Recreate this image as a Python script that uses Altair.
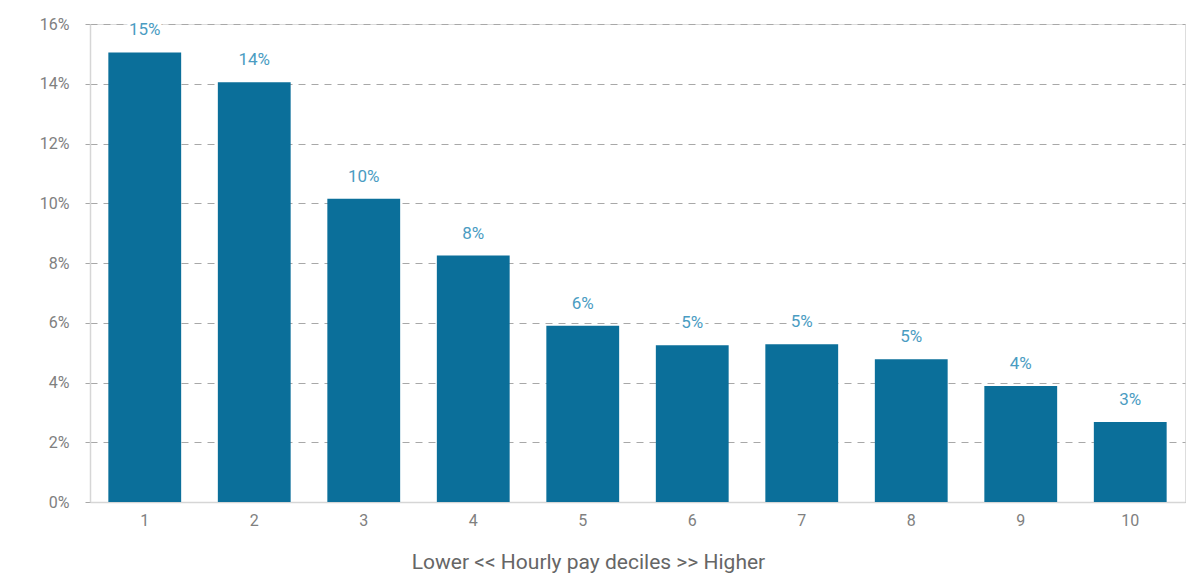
import altair as alt
import pandas as pd

deciles = ["1", "2", "3", "4", "5", "6", "7", "8", "9", "10"]
shares = [15.05, 14.05, 10.15, 8.25, 5.9, 5.25, 5.28, 4.78, 3.88, 2.68]
labels = ["15%", "14%", "10%", "8%", "6%", "5%", "5%", "5%", "4%", "3%"]
y_ticks = [0, 2, 4, 6, 8, 10, 12, 14, 16]

df = pd.DataFrame({"decile": deciles, "share": shares, "label": labels})

FONT = "Roboto"
GREY = "#808080"

x = alt.X(
    "decile:N",
    sort=deciles,
    scale=alt.Scale(paddingInner=0.335, paddingOuter=0.1675),
    axis=alt.Axis(
        title="Lower << Hourly pay deciles >> Higher",
        labelAngle=0,
        labelFontSize=16,
        labelColor=GREY,
        labelFont=FONT,
        labelPadding=10,
        ticks=False,
        domain=True,
        domainColor="#d6d6d6",
        domainWidth=1.5,
        titleFont=FONT,
        titleFontSize=21,
        titleFontWeight="normal",
        titleColor="#666666",
        titlePadding=23,
        titleX=498,
        titleAlign="center",
    ),
)

y = alt.Y(
    "share:Q",
    scale=alt.Scale(domain=[0, 16], nice=False),
    axis=alt.Axis(
        title=None,
        values=y_ticks,
        labelExpr="datum.value + '%'",
        labelFontSize=16,
        labelColor=GREY,
        labelFont=FONT,
        labelPadding=14,
        ticks=True,
        tickSize=7,
        tickColor="#a8a8a8",
        tickDash=[5, 4],
        grid=True,
        gridColor="#a8a8a8",
        gridDash=[7, 6],
        gridWidth=1,
        domain=True,
        domainColor="#d6d6d6",
        domainWidth=1.5,
    ),
)

bars = alt.Chart(df).mark_bar(color="#0b6f9a").encode(x=x, y=y)

halo = alt.Chart(df).mark_text(
    baseline="middle", dy=-22, fontSize=17, font=FONT, color="white",
    stroke="white", strokeWidth=6,
).encode(x=alt.X("decile:N", sort=deciles), y=alt.Y("share:Q"), text="label:N")

text = alt.Chart(df).mark_text(
    baseline="middle", dy=-22, fontSize=17, font=FONT, color="#4a9cc2"
).encode(x=alt.X("decile:N", sort=deciles), y=alt.Y("share:Q"), text="label:N")

chart = (
    alt.layer(bars, halo, text)
    .properties(
        width=1095,
        height=478,
        autosize=alt.AutoSizeParams(type="none"),
        padding={"left": 90, "top": 24, "right": 7, "bottom": 76},
    )
    .configure_view(stroke=None)
    .configure(background="white")
)

chart.save("out.html", embed_options={"renderer": "svg", "actions": False})
